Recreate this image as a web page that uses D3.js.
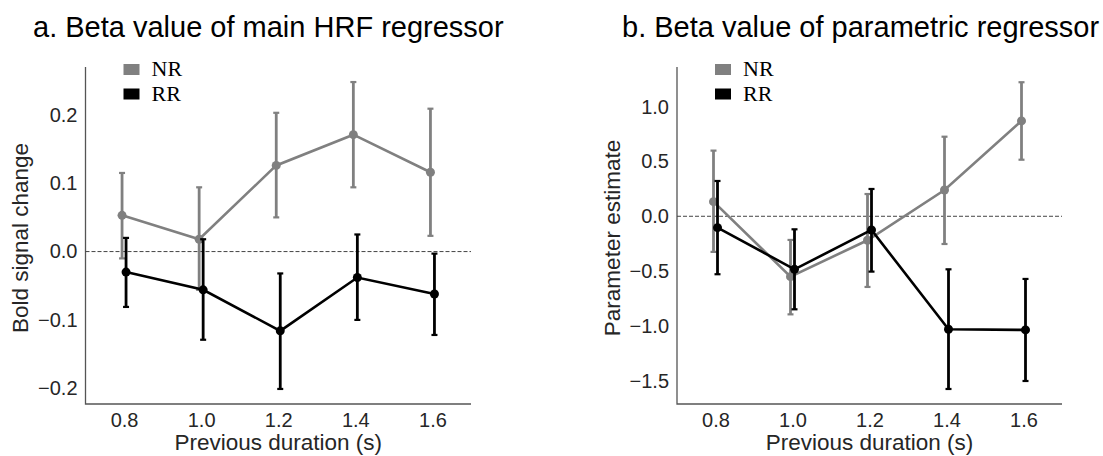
<!DOCTYPE html>
<meta charset="utf-8">
<head>
<title>Beta values by previous duration</title>
<script src="https://cdn.jsdelivr.net/npm/d3@7"></script>
<style>
  body { margin: 0; background: #fff; }
  svg text { font-family: "Liberation Sans", Arial, sans-serif; }
</style>
</head>

<div id="chart"></div>

<script>
  // categories
  var durations = ["0.8", "1.0", "1.2", "1.4", "1.6"];
  var groups = ["NR", "RR"];

  // a. main HRF regressor (mean, lower and upper end of error bar)
  var hrfNR     = [0.053, 0.018, 0.126, 0.171, 0.116];
  var hrfNRlow  = [-0.010, -0.056, 0.050, 0.094, 0.023];
  var hrfNRhigh = [0.115, 0.094, 0.203, 0.248, 0.209];
  var hrfRR     = [-0.030, -0.056, -0.116, -0.038, -0.062];
  var hrfRRlow  = [-0.081, -0.129, -0.201, -0.100, -0.122];
  var hrfRRhigh = [0.020, 0.018, -0.032, 0.025, -0.003];

  // b. parametric regressor
  var parNR     = [0.133, -0.551, -0.219, 0.240, 0.870];
  var parNRlow  = [-0.325, -0.895, -0.645, -0.253, 0.516];
  var parNRhigh = [0.599, -0.216, 0.203, 0.726, 1.223];
  var parRR     = [-0.104, -0.484, -0.125, -1.031, -1.037];
  var parRRlow  = [-0.529, -0.849, -0.505, -1.576, -1.503];
  var parRRhigh = [0.322, -0.119, 0.249, -0.484, -0.572];

  // tick labels
  var hrfTicks = [0.2, 0.1, 0.0, -0.1, -0.2];
  var parTicks = [1.0, 0.5, 0.0, -0.5, -1.0, -1.5];

  var colors = {NR: "#808080", RR: "#000000"};

  var W = 1103, H = 456;
  var svg = d3.select("#chart")
    .append("svg")
      .attr("width", W)
      .attr("height", H);

  function series(mean, low, high) {
    return durations.map(function(d, i) {
      return {dur: d, v: mean[i], lo: low[i], hi: high[i]};
    });
  }

  var panels = [
    {
      title: "a. Beta value of main HRF regressor", titleX: 33,
      left: 85.5, right: 471, yDomain: [-0.223, 0.270], ticks: hrfTicks,
      ylabel: "Bold signal change", ylabelX: 28,
      data: {NR: series(hrfNR, hrfNRlow, hrfNRhigh), RR: series(hrfRR, hrfRRlow, hrfRRhigh)}
    },
    {
      title: "b. Beta value of parametric regressor", titleX: 622,
      left: 677, right: 1062, yDomain: [-1.713, 1.362], ticks: parTicks,
      ylabel: "Parameter estimate", ylabelX: 620,
      data: {NR: series(parNR, parNRlow, parNRhigh), RR: series(parRR, parRRlow, parRRhigh)}
    }
  ];

  var plotTop = 67, plotBottom = 404;
  var dodge = {NR: -2, RR: 2};

  panels.forEach(function(p) {
    var g = svg.append("g");

    var x = d3.scalePoint()
      .domain(durations)
      .range([p.left, p.right])
      .padding(0.5);

    var y = d3.scaleLinear()
      .domain(p.yDomain)
      .range([plotBottom, plotTop]);

    // 제목
    g.append("text")
      .attr("x", p.titleX)
      .attr("y", 37)
      .style("font-size", "29px")
      .style("fill", "#000")
      .text(p.title);

    // x축
    var xa = g.append("g")
      .attr("transform", "translate(0," + plotBottom + ")")
      .call(d3.axisBottom(x).tickSize(0).tickPadding(9));
    xa.select(".domain").remove();
    xa.selectAll("text").style("font-size", "20px").style("fill", "#262626");

    // y축
    var ya = g.append("g")
      .attr("transform", "translate(" + p.left + ",0)")
      .call(d3.axisLeft(y).tickValues(p.ticks).tickFormat(d3.format(".1f")).tickSize(0).tickPadding(8));
    ya.select(".domain").remove();
    ya.selectAll("text").style("font-size", "20px").style("fill", "#262626");

    // 축 선 (left & bottom only)
    g.append("path")
      .attr("d", "M" + p.left + "," + plotTop + "V" + plotBottom + "H" + p.right)
      .attr("fill", "none")
      .attr("stroke", "#555")
      .attr("stroke-width", 1.3);

    // axis titles
    g.append("text")
      .attr("x", (p.left + p.right) / 2)
      .attr("y", 450)
      .attr("text-anchor", "middle")
      .style("font-size", "22.5px")
      .style("fill", "#262626")
      .text("Previous duration (s)");

    g.append("text")
      .attr("transform", "translate(" + p.ylabelX + "," + 238 + ") rotate(-90)")
      .attr("text-anchor", "middle")
      .style("font-size", "22.5px")
      .style("fill", "#262626")
      .text(p.ylabel);

    // zero line
    g.append("line")
      .attr("x1", p.left).attr("x2", p.right)
      .attr("y1", y(0)).attr("y2", y(0))
      .attr("stroke", "#444")
      .attr("stroke-width", 1)
      .attr("stroke-dasharray", "4,2");

    // series
    groups.forEach(function(k) {
      var d = p.data[k];
      var c = colors[k];
      var px = function(e) { return x(e.dur) + dodge[k]; };
      var sg = g.append("g");

      sg.selectAll(".err")
        .data(d).enter()
        .append("line")
          .attr("x1", px).attr("x2", px)
          .attr("y1", function(e) { return y(e.lo); })
          .attr("y2", function(e) { return y(e.hi); })
          .attr("stroke", c)
          .attr("stroke-width", 2.8);

      ["lo", "hi"].forEach(function(end) {
        sg.selectAll(".cap-" + end)
          .data(d).enter()
          .append("line")
            .attr("x1", function(e) { return px(e) - 3; })
            .attr("x2", function(e) { return px(e) + 3; })
            .attr("y1", function(e) { return y(e[end]); })
            .attr("y2", function(e) { return y(e[end]); })
            .attr("stroke", c)
            .attr("stroke-width", 2.2);
      });

      sg.append("path")
        .datum(d)
        .attr("fill", "none")
        .attr("stroke", c)
        .attr("stroke-width", 2.6)
        .attr("d", d3.line().x(px).y(function(e) { return y(e.v); }));

      sg.selectAll("circle")
        .data(d).enter()
        .append("circle")
          .attr("cx", px)
          .attr("cy", function(e) { return y(e.v); })
          .attr("r", 4.5)
          .attr("fill", c);
    });

    // legend
    groups.forEach(function(k, i) {
      g.append("rect")
        .attr("x", p.left + 38)
        .attr("y", 64 + i * 24.5)
        .attr("width", 16)
        .attr("height", 11)
        .attr("fill", colors[k]);
      g.append("text")
        .attr("x", p.left + 66)
        .attr("y", 76 + i * 24.5)
        .style("font-family", "'Liberation Serif', 'Times New Roman', serif")
        .style("font-size", "22px")
        .style("fill", "#000")
        .text(k);
    });
  });
</script>
